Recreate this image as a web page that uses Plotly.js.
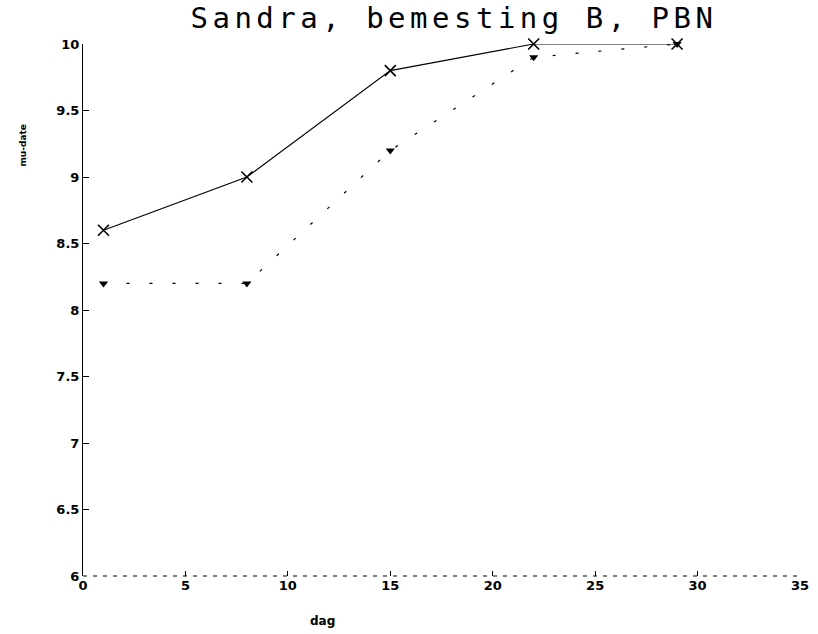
<!DOCTYPE html>
<html>
<head>
<meta charset="utf-8">
<script src="https://cdn.plot.ly/plotly-3.0.1.min.js"></script>
<style>
html,body{margin:0;padding:0;background:#fff;}
#chart{width:818px;height:634px;}
.gtitle{letter-spacing:4.5px;}
</style>
</head>
<body>
<div id="chart"></div>
<script>
// Data
const days = [1, 8, 15, 22, 29];
const seriesX = [8.6, 9.0, 9.8, 10.0, 10.0];      // cross markers, solid line
const seriesTri = [8.2, 8.2, 9.2, 9.9, 10.0];     // triangle markers, dotted line
const xTicks = [0, 5, 10, 15, 20, 25, 30, 35];
const yTicks = [6, 6.5, 7, 7.5, 8, 8.5, 9, 9.5, 10];
const titleText = 'Sandra, bemesting B, PBN';
const xLabel = 'dag';
const yLabel = 'mu-date';

const traces = [
  {
    x: days, y: seriesTri, mode: 'lines+markers', type: 'scatter',
    line: {color: '#000', width: 1.2, dash: '3px,20px'},
    marker: {symbol: 'triangle-down', size: 8, color: '#000'},
    cliponaxis: false, showlegend: false
  },
  {
    x: days, y: seriesX, mode: 'lines+markers', type: 'scatter',
    line: {color: '#000', width: 1.1},
    marker: {symbol: 'x-thin', size: 11, color: '#000', line: {color: '#000', width: 1.6}},
    cliponaxis: false, showlegend: false
  }
];

const tickFont = {family: 'DejaVu Sans, sans-serif', size: 13, color: '#000', weight: 'bold'};

const layout = {
  width: 818, height: 634,
  margin: {l: 83, r: 18, t: 44, b: 58},
  paper_bgcolor: '#fff', plot_bgcolor: '#fff',
  title: {
    text: titleText,
    font: {family: 'DejaVu Sans Mono, monospace', size: 29, color: '#000', weight: 300},
    x: 0.555, xanchor: 'center', y: 0.972, yanchor: 'middle'
  },
  xaxis: {
    range: [0, 35], tickvals: xTicks, ticktext: xTicks.map(String),
    showgrid: false, zeroline: false, showline: false,
    ticks: 'inside', ticklen: 5, tickcolor: '#000', tickwidth: 1,
    tickfont: tickFont
  },
  yaxis: {
    range: [6, 10], tickvals: yTicks, ticktext: yTicks.map(String),
    showgrid: false, zeroline: false, showline: true, linecolor: '#000', linewidth: 1,
    ticks: 'inside', ticklen: 6, tickcolor: '#000', tickwidth: 1,
    tickfont: tickFont
  },
  shapes: [
    {type: 'line', xref: 'paper', yref: 'paper', x0: 0, x1: 1, y0: 0, y1: 0,
     line: {color: '#000', width: 1, dash: '4px,6px'}}
  ],
  annotations: [
    {text: xLabel, xref: 'paper', yref: 'paper', x: 0.334, y: -0.085,
     xanchor: 'center', yanchor: 'middle', showarrow: false,
     font: {family: 'DejaVu Sans, sans-serif', size: 12, color: '#000', weight: 'bold'}},
    {text: yLabel, xref: 'paper', yref: 'paper', x: -0.083, y: 0.81,
     xanchor: 'center', yanchor: 'middle', showarrow: false, textangle: -90,
     font: {family: 'DejaVu Sans, sans-serif', size: 9, color: '#000', weight: 'bold'}}
  ]
};

Plotly.newPlot('chart', traces, layout, {displayModeBar: false, staticPlot: true});
</script>
</body>
</html>
